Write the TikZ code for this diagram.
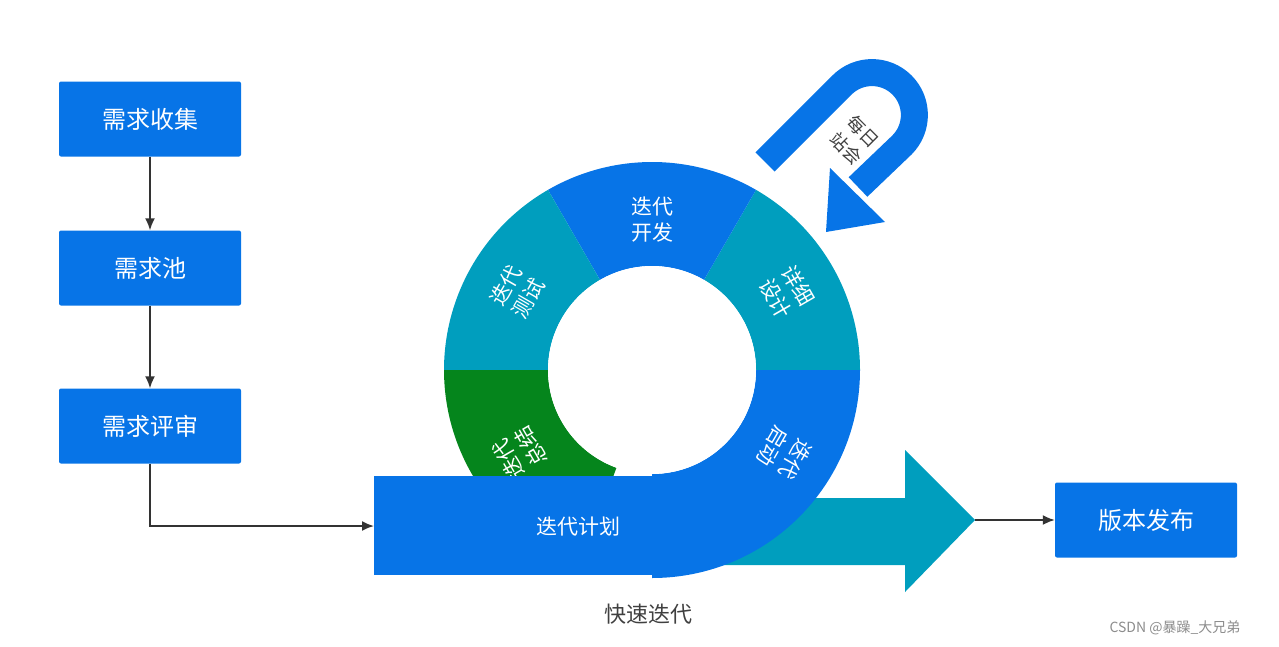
\documentclass[tikz,border=0pt]{standalone}
\usepackage{fontspec}
\setmainfont{Noto Sans CJK SC}
\usetikzlibrary{arrows.meta}
\begin{document}
\begin{tikzpicture}[x=1pt,y=-1pt,
  box/.style={fill=cblue,rounded corners=2pt,minimum width=182pt,minimum height=75pt,text=white,font=\fontsize{24}{28}\selectfont},
  conn/.style={draw=black!80,line width=1.8pt,-{Latex[length=12pt,width=10pt]}},
  seg/.style={text=white,font=\fontsize{21}{26}\selectfont,align=center}]
\definecolor{cblue}{RGB}{7,116,231}
\definecolor{cteal}{RGB}{0,158,190}
\definecolor{cgreen}{RGB}{5,133,28}
\useasboundingbox (0,0) rectangle (1279,646);
\node[box] (a) at (150,119) {需求收集};
\node[box] (b) at (150,268) {需求池};
\node[box] (c) at (150,426) {需求评审};
\node[box] (d) at (1146,520) {版本发布};
\fill[cteal] (690,498) -- (905,498) -- (905,450) -- (975,520) -- (905,592) -- (905,565) -- (690,565) -- cycle;
\coordinate (tip) at (975,520);
\def\R{208}\def\r{104}
\begin{scope}[shift={(652,370)},y=1pt]
\fill[cteal] (0:\R) arc[start angle=0,end angle=60,radius=\R] -- (60:\r) arc[start angle=60,end angle=0,radius=\r] -- cycle;
\fill[cblue] (60:\R) arc[start angle=60,end angle=120,radius=\R] -- (120:\r) arc[start angle=120,end angle=60,radius=\r] -- cycle;
\fill[cteal] (120:\R) arc[start angle=120,end angle=180,radius=\R] -- (180:\r) arc[start angle=180,end angle=120,radius=\r] -- cycle;
\fill[cgreen] (180:\R) arc[start angle=180,end angle=250,radius=\R] -- (250:\r) arc[start angle=250,end angle=180,radius=\r] -- cycle;
\fill[cblue] (270:\R) arc[start angle=270,end angle=360,radius=\R] -- (0:\r) arc[start angle=360,end angle=270,radius=\r] -- cycle;
\node[seg] (s1) at (90:150) {迭代\\开发};
\node[seg,rotate=-60] (s2) at (30:156) {详细\\设计};
\node[seg,rotate=60] (s3) at (150:156) {迭代\\测试};
\node[seg,rotate=120] (s4) at (212:156) {迭代\\总结};
\node[seg,rotate=-120] (s5) at (-32:156) {迭代\\启动};
\node[font=\fontsize{24}{28}\selectfont] (ctr) at (0,-5) {2-3周};
\end{scope}
\fill[cblue] (374,476) rectangle (652,575);
\fill[white] (652,370) circle (\r);
\node[seg] (bar) at (578,527) {迭代计划};
\coordinate (barl) at (374,526);
\draw[cblue,line width=27pt] (765,162) -- (842,85) arc[start angle=-135,end angle=45,radius=42.4] -- (858,187);
\fill[cblue] (826,232) -- (830,168) -- (885,222) -- cycle;
\node[rotate=-45,align=center,text=black!75,font=\fontsize{18}{24}\selectfont] (daily) at (855,140) {每日\\站会};
\draw[conn] (a) -- (b);
\draw[conn] (b) -- (c);
\draw[conn] (c.south) |- (barl);
\draw[conn] (tip) -- (d);
\node[text=black!75,font=\fontsize{22}{26}\selectfont] (fast) at (648,614) {快速迭代};
\node[text=black!45,font=\fontsize{14}{16}\selectfont] (wm) at (1175,628) {CSDN @暴躁\_大兄弟};
\end{tikzpicture}
\end{document}
